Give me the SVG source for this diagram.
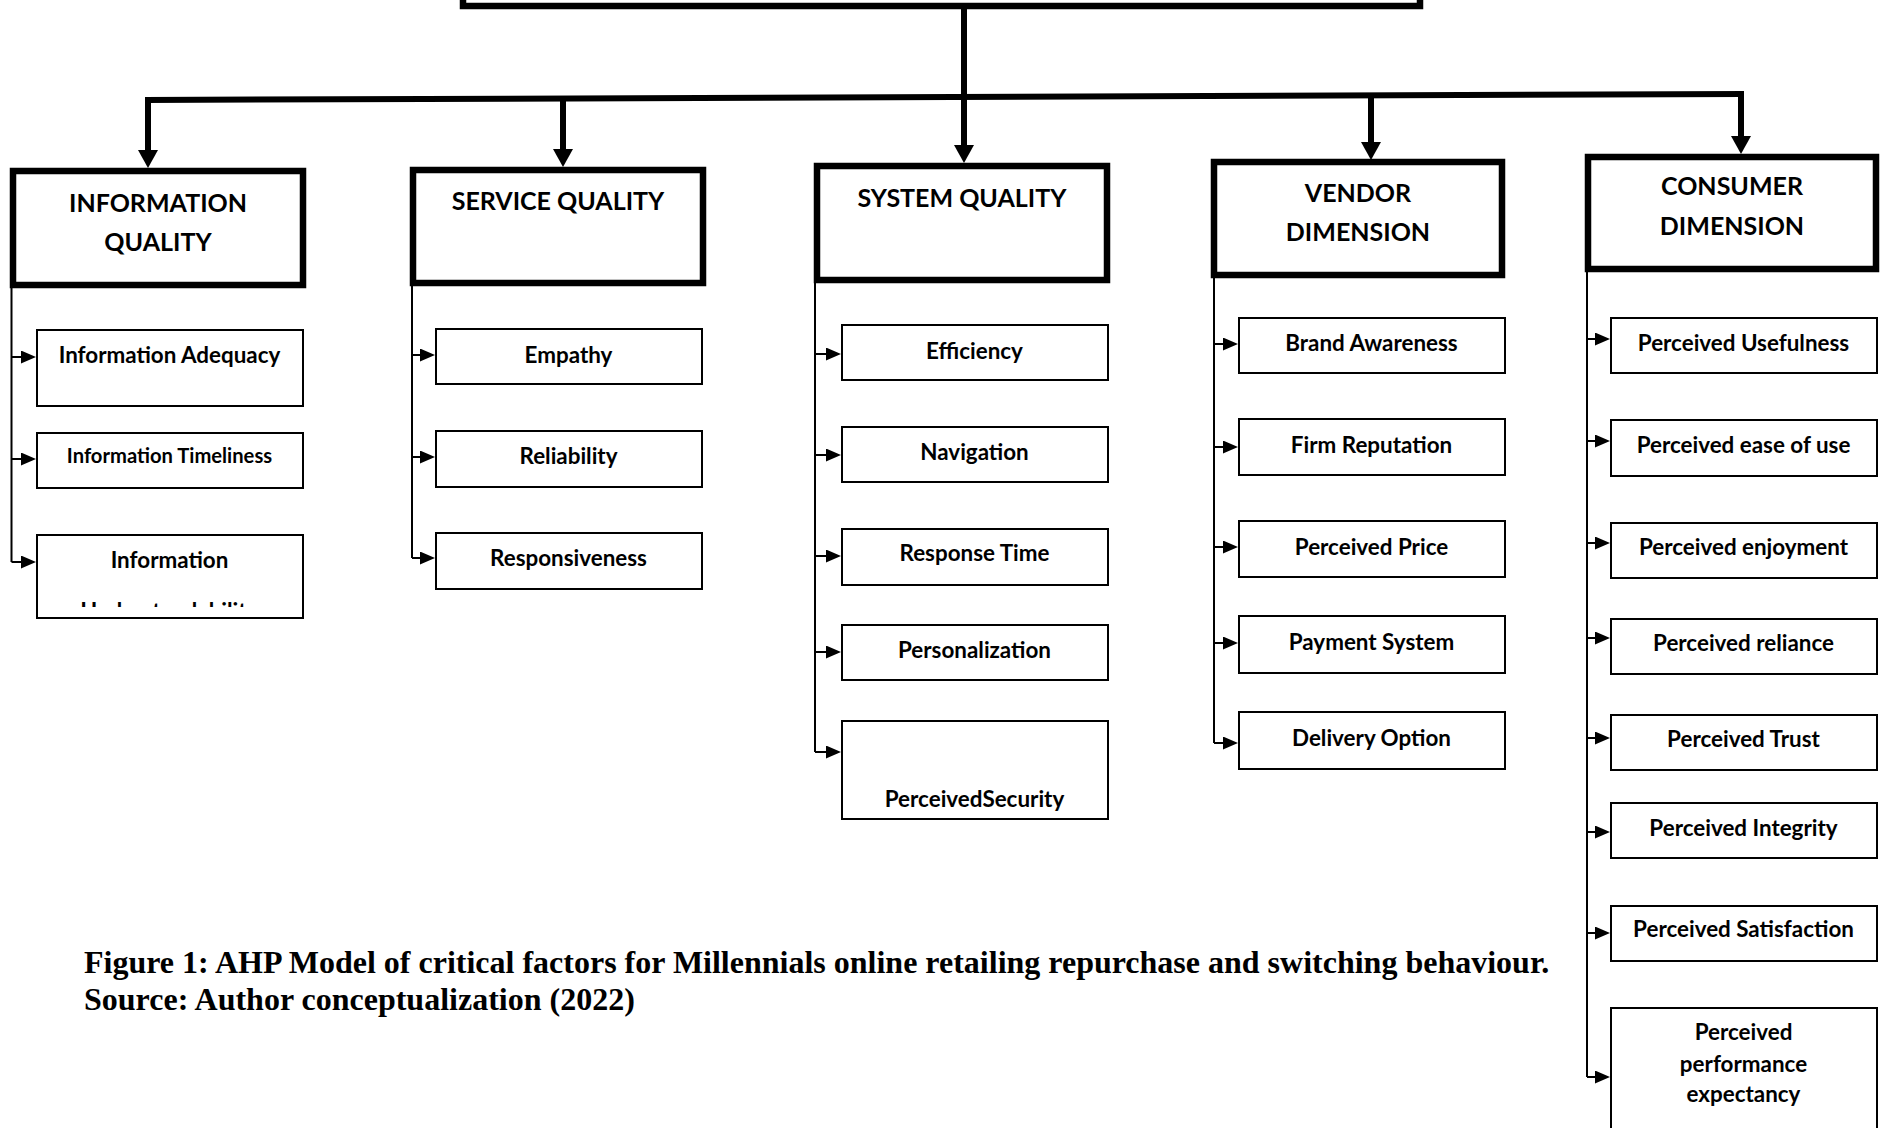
<svg xmlns="http://www.w3.org/2000/svg" width="1883" height="1128" viewBox="0 0 1883 1128">
<style>
.hbox{fill:#fff;stroke:#000;stroke-width:6.5}
.cbox{fill:#fff;stroke:#000;stroke-width:2}
.ht{font-family:Lato,"Open Sans",sans-serif;font-weight:700;font-size:25px;fill:#000;text-anchor:middle}
.ct{font-family:Lato,"Open Sans",sans-serif;font-weight:700;font-size:22.4px;fill:#000;text-anchor:middle}
.thick{fill:none;stroke:#000;stroke-width:6}
.thin{fill:none;stroke:#000;stroke-width:2}
.cap{font-family:"Liberation Serif","Times New Roman",serif;font-weight:700;font-size:32px;fill:#000}
</style>
<defs>
<marker id="bigArrow" viewBox="0 0 18 20" markerWidth="18" markerHeight="20" refX="1" refY="10" orient="auto" markerUnits="userSpaceOnUse">
<path d="M0,0 L18,10 L0,20 Z" fill="#000"/>
</marker>
<marker id="smallArrow" viewBox="0 0 15 13" markerWidth="15" markerHeight="13" refX="1" refY="6.5" orient="auto" markerUnits="userSpaceOnUse">
<path d="M0,0 L15,6.5 L0,13 Z" fill="#000"/>
</marker>
<clipPath id="clipUnd"><rect x="36" y="534" width="267" height="73"/></clipPath>
</defs>
<rect width="1883" height="1128" fill="#fff"/>

<g id="connectors">
<path class="thick" d="M964,6 V146" marker-end="url(#bigArrow)"/>
<path class="thick" d="M145,100 L1744,94"/>
<path class="thick" d="M148,100 V151" marker-end="url(#bigArrow)"/>
<path class="thick" d="M563,98.4 V150" marker-end="url(#bigArrow)"/>
<path class="thick" d="M1371,95.4 V143" marker-end="url(#bigArrow)"/>
<path class="thick" d="M1741,94 V137" marker-end="url(#bigArrow)"/>

<path class="thin" d="M11.5,288 V562"/>
<path class="thin" d="M11.5,357 H22" marker-end="url(#smallArrow)"/>
<path class="thin" d="M11.5,459 H22" marker-end="url(#smallArrow)"/>
<path class="thin" d="M11.5,562 H22" marker-end="url(#smallArrow)"/>

<path class="thin" d="M412,286 V558"/>
<path class="thin" d="M412,355 H421" marker-end="url(#smallArrow)"/>
<path class="thin" d="M412,457 H421" marker-end="url(#smallArrow)"/>
<path class="thin" d="M412,558 H421" marker-end="url(#smallArrow)"/>

<path class="thin" d="M815,283 V752"/>
<path class="thin" d="M815,354 H827" marker-end="url(#smallArrow)"/>
<path class="thin" d="M815,455 H827" marker-end="url(#smallArrow)"/>
<path class="thin" d="M815,556 H827" marker-end="url(#smallArrow)"/>
<path class="thin" d="M815,652 H827" marker-end="url(#smallArrow)"/>
<path class="thin" d="M815,752 H827" marker-end="url(#smallArrow)"/>

<path class="thin" d="M1214,278 V743"/>
<path class="thin" d="M1214,344 H1224" marker-end="url(#smallArrow)"/>
<path class="thin" d="M1214,447 H1224" marker-end="url(#smallArrow)"/>
<path class="thin" d="M1214,547 H1224" marker-end="url(#smallArrow)"/>
<path class="thin" d="M1214,643 H1224" marker-end="url(#smallArrow)"/>
<path class="thin" d="M1214,743 H1224" marker-end="url(#smallArrow)"/>

<path class="thin" d="M1587,272 V1077"/>
<path class="thin" d="M1587,339 H1596" marker-end="url(#smallArrow)"/>
<path class="thin" d="M1587,441 H1596" marker-end="url(#smallArrow)"/>
<path class="thin" d="M1587,543 H1596" marker-end="url(#smallArrow)"/>
<path class="thin" d="M1587,638 H1596" marker-end="url(#smallArrow)"/>
<path class="thin" d="M1587,738 H1596" marker-end="url(#smallArrow)"/>
<path class="thin" d="M1587,832 H1596" marker-end="url(#smallArrow)"/>
<path class="thin" d="M1587,933 H1596" marker-end="url(#smallArrow)"/>
<path class="thin" d="M1587,1077 H1596" marker-end="url(#smallArrow)"/>
</g>

<g id="root"><rect class="hbox" x="463" y="-60" width="957" height="66"/></g>

<g id="information-quality">
<rect class="hbox" x="13" y="171" width="290" height="114"/>
<text class="ht" x="158" y="212">INFORMATION</text>
<text class="ht" x="158" y="251">QUALITY</text>
</g>
<g id="service-quality">
<rect class="hbox" x="413" y="170" width="290" height="113"/>
<text class="ht" x="558" y="210">SERVICE QUALITY</text>
</g>
<g id="system-quality">
<rect class="hbox" x="817" y="166" width="290" height="114"/>
<text class="ht" x="962" y="207">SYSTEM QUALITY</text>
</g>
<g id="vendor-dimension">
<rect class="hbox" x="1214" y="162" width="288" height="113"/>
<text class="ht" x="1358" y="202">VENDOR</text>
<text class="ht" x="1358" y="241">DIMENSION</text>
</g>
<g id="consumer-dimension">
<rect class="hbox" x="1588" y="157" width="288" height="112"/>
<text class="ht" x="1732" y="195">CONSUMER</text>
<text class="ht" x="1732" y="235">DIMENSION</text>
</g>

<g id="information-adequacy"><rect class="cbox" x="37" y="330" width="266" height="76"/><text class="ct" x="169.5" y="363">Information Adequacy</text></g>
<g id="information-timeliness"><rect class="cbox" x="37" y="433" width="266" height="55"/><text class="ct" x="169.5" y="463" style="font-size:20.2px">Information Timeliness</text></g>
<g id="information-understandability"><rect class="cbox" x="37" y="535" width="266" height="83"/><text class="ct" x="169.5" y="568">Information</text><text class="ct" x="169.5" y="619" clip-path="url(#clipUnd)">Understandability</text></g>

<g id="empathy"><rect class="cbox" x="436" y="329" width="266" height="55"/><text class="ct" x="568.5" y="363">Empathy</text></g>
<g id="reliability"><rect class="cbox" x="436" y="431" width="266" height="56"/><text class="ct" x="568.5" y="464">Reliability</text></g>
<g id="responsiveness"><rect class="cbox" x="436" y="533" width="266" height="56"/><text class="ct" x="568.5" y="566">Responsiveness</text></g>

<g id="efficiency"><rect class="cbox" x="842" y="325" width="266" height="55"/><text class="ct" x="974.5" y="359">Efficiency</text></g>
<g id="navigation"><rect class="cbox" x="842" y="427" width="266" height="55"/><text class="ct" x="974.5" y="460">Navigation</text></g>
<g id="response-time"><rect class="cbox" x="842" y="529" width="266" height="56"/><text class="ct" x="974.5" y="561">Response Time</text></g>
<g id="personalization"><rect class="cbox" x="842" y="625" width="266" height="55"/><text class="ct" x="974.5" y="658">Personalization</text></g>
<g id="perceived-security"><rect class="cbox" x="842" y="721" width="266" height="98"/><text class="ct" x="974.5" y="807">PerceivedSecurity</text></g>

<g id="brand-awareness"><rect class="cbox" x="1239" y="318" width="266" height="55"/><text class="ct" x="1371.5" y="351">Brand Awareness</text></g>
<g id="firm-reputation"><rect class="cbox" x="1239" y="419" width="266" height="56"/><text class="ct" x="1371.5" y="453">Firm Reputation</text></g>
<g id="perceived-price"><rect class="cbox" x="1239" y="521" width="266" height="56"/><text class="ct" x="1371.5" y="555">Perceived Price</text></g>
<g id="payment-system"><rect class="cbox" x="1239" y="616" width="266" height="57"/><text class="ct" x="1371.5" y="650">Payment System</text></g>
<g id="delivery-option"><rect class="cbox" x="1239" y="712" width="266" height="57"/><text class="ct" x="1371.5" y="746">Delivery Option</text></g>

<g id="perceived-usefulness"><rect class="cbox" x="1611" y="318" width="266" height="55"/><text class="ct" x="1743.5" y="351">Perceived Usefulness</text></g>
<g id="perceived-ease-of-use"><rect class="cbox" x="1611" y="420" width="266" height="56"/><text class="ct" x="1743.5" y="453">Perceived ease of use</text></g>
<g id="perceived-enjoyment"><rect class="cbox" x="1611" y="523" width="266" height="55"/><text class="ct" x="1743.5" y="555">Perceived enjoyment</text></g>
<g id="perceived-reliance"><rect class="cbox" x="1611" y="619" width="266" height="55"/><text class="ct" x="1743.5" y="651">Perceived reliance</text></g>
<g id="perceived-trust"><rect class="cbox" x="1611" y="715" width="266" height="55"/><text class="ct" x="1743.5" y="747">Perceived Trust</text></g>
<g id="perceived-integrity"><rect class="cbox" x="1611" y="803" width="266" height="55"/><text class="ct" x="1743.5" y="836">Perceived Integrity</text></g>
<g id="perceived-satisfaction"><rect class="cbox" x="1611" y="906" width="266" height="55"/><text class="ct" x="1743.5" y="937">Perceived Satisfaction</text></g>
<g id="perceived-performance-expectancy"><rect class="cbox" x="1611" y="1008" width="266" height="140"/><text class="ct" x="1743.5" y="1040">Perceived</text><text class="ct" x="1743.5" y="1072">performance</text><text class="ct" x="1743.5" y="1102">expectancy</text></g>

<g id="caption">
<text class="cap" x="84" y="973">Figure 1: AHP Model of critical factors for Millennials online retailing repurchase and switching behaviour.</text>
<text class="cap" x="84" y="1010">Source: Author conceptualization (2022)</text>
</g>
</svg>
